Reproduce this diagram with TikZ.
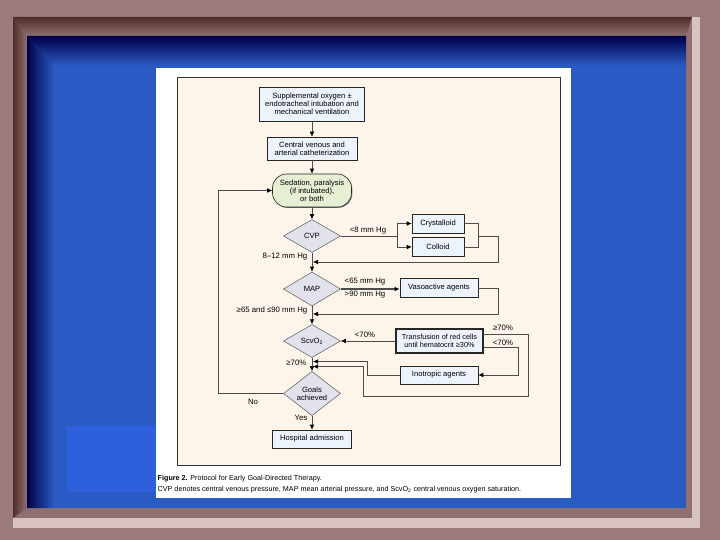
\documentclass[tikz,border=0pt]{standalone}
\usepackage{fontspec}
\setmainfont{Liberation Sans}
\usetikzlibrary{arrows.meta,shapes.geometric,shadows}
\definecolor{mauve}{RGB}{156,123,126}
\definecolor{framedark}{RGB}{80,46,40}
\definecolor{framemid}{RGB}{142,112,114}
\definecolor{framelight}{RGB}{217,194,194}
\definecolor{navy}{RGB}{0,0,72}
\definecolor{slideblue}{RGB}{42,91,196}
\definecolor{lightblue}{RGB}{46,96,222}
\definecolor{panelcream}{RGB}{253,245,234}
\definecolor{boxblue}{RGB}{236,243,252}
\definecolor{sedgreen}{RGB}{228,239,212}
\definecolor{diagray}{RGB}{226,226,236}
\begin{document}
\begin{tikzpicture}[x=1pt,y=-1pt,
  font=\fontsize{7.6}{8.2}\selectfont,
  box/.style={draw=black!85, line width=0.6pt, fill=boxblue, align=center, inner sep=1pt,
    drop shadow={shadow xshift=0.8pt, shadow yshift=-0.8pt, fill=black!55, opacity=1}},
  dia/.style={diamond, draw=black!65, line width=0.5pt, fill=diagray, inner sep=0pt,
    minimum width=57pt, minimum height=33pt, align=center},
  conn/.style={draw=black!70, line width=0.6pt},
  arr/.style={conn, -{Latex[length=5pt,width=4.6pt,color=black]}},
  lab/.style={font=\fontsize{7.8}{8}\selectfont, inner sep=0.5pt},
  captext/.style={font=\fontsize{7.2}{8}\selectfont, inner sep=0.5pt}]
\useasboundingbox (0,0) rectangle (720,540);
% ---- slide background ----
\fill[mauve] (0,0) rectangle (720,540);
\fill[framelight] (13,17) rectangle (700,528);
\fill[framemid] (13,17) rectangle (692,518);
\shade[top color=framedark, bottom color=framemid] (13,17) -- (692,17) -- (686,36) -- (27,36) -- cycle;
\shade[left color=framedark, right color=framemid] (13,17) -- (27,36) -- (27,508) -- (13,518) -- cycle;
\fill[slideblue] (27,36) rectangle (686,508);
\shade[top color=navy, middle color=navy!55!slideblue, bottom color=slideblue]
  (27,36) -- (686,36) -- (686,66) -- (54,66) -- cycle;
\shade[left color=navy, middle color=navy!50!slideblue, right color=slideblue]
  (27,36) -- (54,66) -- (54,508) -- (27,508) -- cycle;
\fill[lightblue] (67,426) rectangle (156,492);
\fill[white] (156,68) rectangle (571,498);
\draw[fill=panelcream, draw=black!80, line width=0.7pt] (177,77) rectangle (560,465);
% ---- nodes ----
\node[box, minimum width=105pt, minimum height=34pt] (oxy) at (312,104)
  {Supplemental oxygen ±\\endotracheal intubation and\\mechanical ventilation};
\node[box, minimum width=90pt, minimum height=23pt] (cath) at (312,148.5)
  {Central venous and\\arterial catheterization};
\node[box, rounded corners=14pt, fill=sedgreen, minimum width=79pt, minimum height=33pt] (sed) at (312,190.5)
  {Sedation, paralysis\\(if intubated),\\or both};
\node[dia] (cvp) at (312,236) {CVP};
\node[box, minimum width=52pt, minimum height=19pt] (cry) at (438,223.5) {Crystalloid};
\node[box, minimum width=52pt, minimum height=19pt] (col) at (438,247) {Colloid};
\node[dia, minimum height=34pt] (map) at (312,289) {MAP};
\node[box, minimum width=78pt, minimum height=19pt] (vaso) at (439,288) {Vasoactive agents};
\node[dia] (scv) at (312,341) {ScvO\textsubscript{2}};
\node[box, line width=1.1pt, minimum width=87pt, minimum height=24pt, font=\fontsize{7.3}{8.2}\selectfont] (trans) at (439.5,341)
  {Transfusion of red cells\\until hematocrit ≥30\%};
\node[box, minimum width=78pt, minimum height=18pt] (ino) at (439,375) {Inotropic agents};
\node[dia] (goal) at (312,393.5) {Goals\\achieved};
\node[box, minimum width=79pt, minimum height=18pt] (hosp) at (312,439) {Hospital admission};
% ---- helper coordinates ----
\coordinate (split) at (397,236);
\coordinate (join) at (478,236);
\coordinate (m1) at (313,262);
\coordinate (m2) at (313,314);
\coordinate (m3) at (313,366.5);
\coordinate (m4) at (313,361.5);
\coordinate (t70a) at (483,334);
\coordinate (t70b) at (483,347);
\coordinate (nol) at (218,393.5);
% ---- connectors ----
\draw[arr] (oxy) -- (cath);
\draw[arr] (cath) -- (sed);
\draw[arr] (sed) -- (cvp);
\draw[conn] (cvp.east) -- (split);
\draw[arr] (split) |- (cry.west);
\draw[arr] (split) |- (col.west);
\draw[conn] (cry.east) -| (join);
\draw[conn] (col.east) -| (join);
\draw[arr] (join) -- (498,236) -- (498,262) -- (m1);
\draw[arr] (cvp) -- (map);
\draw[arr, line width=1.1pt] (map.east) -- (map.east -| vaso.west);
\draw[arr] (vaso.east) -- (498,288) -- (498,314) -- (m2);
\draw[arr] (map) -- (scv);
\draw[arr] (trans.west) -- (scv.east);
\draw[arr] (t70a) -- (528,334) -- (528,396) -- (363,396) -- (363,366.5) -- (m3);
\draw[arr] (t70b) -- (518,347) -- (518,375) -- (ino.east);
\draw[arr] (ino.west) -- (367,375) -- (367,361.5) -- (m4);
\draw[arr] (scv) -- (goal);
\draw[arr] (goal.west) -- (nol) |- (sed.west);
\draw[arr] (goal) -- (hosp);
% ---- labels ----
\node[lab] at (368,231) {<8 mm Hg};
\node[lab, anchor=east] at (308,257) {8–12 mm Hg};
\node[lab] at (365,282) {<65 mm Hg};
\node[lab] at (365,295) {>90 mm Hg};
\node[lab, anchor=east] at (308,310) {≥65 and ≤90 mm Hg};
\node[lab] at (365,335) {<70\%};
\node[lab] at (503,328) {≥70\%};
\node[lab] at (503,343) {<70\%};
\node[lab, anchor=east] at (307,363) {≥70\%};
\node[lab] at (253,402) {No};
\node[lab] at (301,418) {Yes};
% ---- caption ----
\node[captext, anchor=base west] (cap1) at (157,480.5) {\textbf{Figure 2.} Protocol for Early Goal-Directed Therapy.};
\node[captext, anchor=base west] (cap2) at (157,491) {CVP denotes central venous pressure, MAP mean arterial pressure, and ScvO\textsubscript{2} central venous oxygen saturation.};
\end{tikzpicture}
\end{document}
